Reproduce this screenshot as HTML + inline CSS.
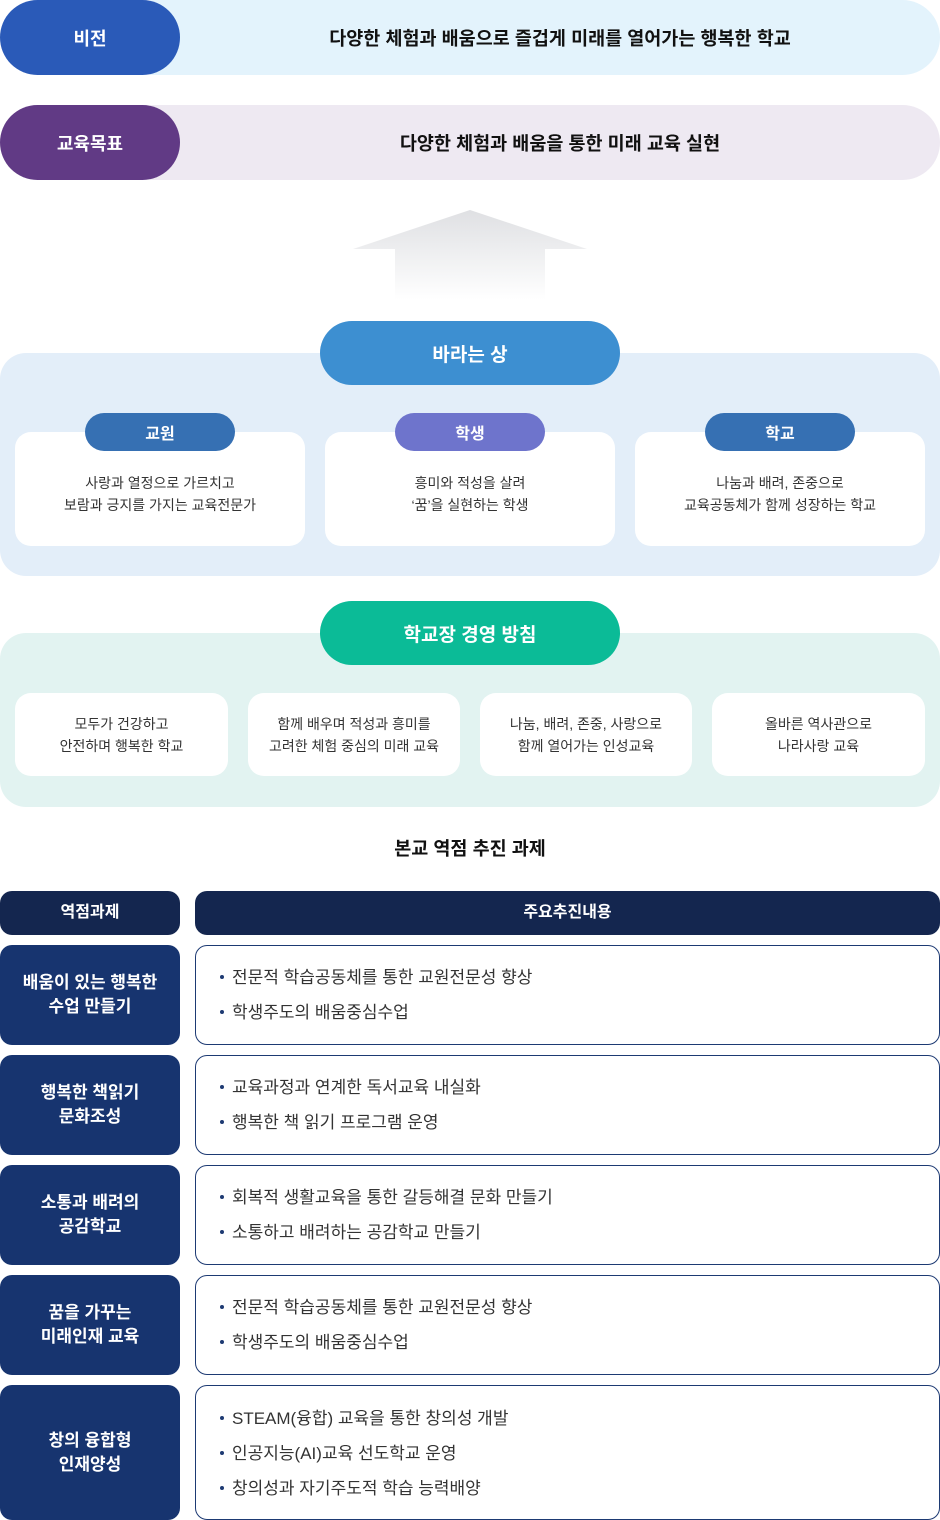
<!DOCTYPE html>
<html><head><meta charset="utf-8"><style>
*{margin:0;padding:0;box-sizing:border-box}
body{width:940px;height:1520px;position:relative;background:#fff;font-family:"Liberation Sans","Noto Sans CJK KR",sans-serif;color:#222;overflow:hidden}
.a{position:absolute}
.c{display:flex;align-items:center;justify-content:center;text-align:center}
.band{border-radius:0 38px 38px 0;font-size:18.5px;font-weight:bold;color:#111}
.pill{border-radius:38px;color:#fff;font-size:18px;font-weight:bold}
.card{background:#fff;border-radius:16px;font-size:14px;line-height:22px;color:#333}
.tag{border-radius:19px;color:#fff;font-size:16px;font-weight:bold}
.lh{background:#17346f;color:#fff;border-radius:12px;font-size:17px;font-weight:bold;line-height:24px}
.rb{border:1px solid #1d3a73;border-radius:12px;background:#fff;font-size:17px;color:#333}
.rb div{position:absolute;left:24px}
.rb div:before{content:"";display:inline-block;width:4px;height:4px;border-radius:50%;background:#1d3a73;margin-right:8px;vertical-align:middle;position:relative;top:-2px}
</style></head><body>
<div class="a c band" style="left:150px;top:0;width:790px;height:75px;background:#e3f3fc;padding-left:30px">다양한 체험과 배움으로 즐겁게 미래를 열어가는 행복한 학교</div>
<div class="a c pill" style="left:0;top:0;width:180px;height:75px;background:#2a5ab8">비전</div>
<div class="a c band" style="left:150px;top:105px;width:790px;height:75px;background:#eee9f2;padding-left:30px">다양한 체험과 배움을 통한 미래 교육 실현</div>
<div class="a c pill" style="left:0;top:105px;width:180px;height:75px;background:#613a85">교육목표</div>
<svg class="a" style="left:0;top:200px" width="940" height="110"><defs><linearGradient id="g" x1="0" y1="0" x2="0" y2="1"><stop offset="0" stop-color="#dfe0e3"/><stop offset="1" stop-color="#fff"/></linearGradient></defs>
<path d="M470 10 L587 49 L545 49 L545 100 L395 100 L395 49 L353 49 Z" fill="url(#g)"/></svg>

<div class="a" style="left:0;top:353px;width:940px;height:223px;background:#e3eef9;border-radius:26px"></div>
<div class="a c pill" style="left:320px;top:321px;width:300px;height:64px;background:#3d8fd1;border-radius:32px;font-size:19px">바라는 상</div>
<div class="a c card" style="left:15px;top:432px;width:290px;height:114px;padding-top:10px">사랑과 열정으로 가르치고<br>보람과 긍지를 가지는 교육전문가</div>
<div class="a c card" style="left:325px;top:432px;width:290px;height:114px;padding-top:10px">흥미와 적성을 살려<br>‘꿈’을 실현하는 학생</div>
<div class="a c card" style="left:635px;top:432px;width:290px;height:114px;padding-top:10px">나눔과 배려, 존중으로<br>교육공동체가 함께 성장하는 학교</div>
<div class="a c tag" style="left:85px;top:413px;width:150px;height:38px;background:#3670b3">교원</div>
<div class="a c tag" style="left:395px;top:413px;width:150px;height:38px;background:#6e74cc">학생</div>
<div class="a c tag" style="left:705px;top:413px;width:150px;height:38px;background:#3670b3">학교</div>

<div class="a" style="left:0;top:633px;width:940px;height:174px;background:#e2f3f1;border-radius:26px"></div>
<div class="a c pill" style="left:320px;top:601px;width:300px;height:64px;background:#0bbb97;border-radius:32px;font-size:19px">학교장 경영 방침</div>
<div class="a c card" style="left:15px;top:693px;width:213px;height:83px">모두가 건강하고<br>안전하며 행복한 학교</div>
<div class="a c card" style="left:248px;top:693px;width:212px;height:83px">함께 배우며 적성과 흥미를<br>고려한 체험 중심의 미래 교육</div>
<div class="a c card" style="left:480px;top:693px;width:212px;height:83px">나눔, 배려, 존중, 사랑으로<br>함께 열어가는 인성교육</div>
<div class="a c card" style="left:712px;top:693px;width:213px;height:83px">올바른 역사관으로<br>나라사랑 교육</div>

<div class="a c" style="left:0;top:836px;width:940px;height:24px;font-size:18.5px;font-weight:bold;color:#111">본교 역점 추진 과제</div>

<div class="a c lh" style="left:0;top:891px;width:180px;height:44px;background:#14264f;font-size:16px">역점과제</div>
<div class="a c lh" style="left:195px;top:891px;width:745px;height:44px;background:#14264f;font-size:16px">주요추진내용</div>

<div class="a c lh" style="left:0;top:945px;width:180px;height:100px">배움이 있는 행복한<br>수업 만들기</div>
<div class="a rb" style="left:195px;top:945px;width:745px;height:100px"><div style="top:17px">전문적 학습공동체를 통한 교원전문성 향상</div><div style="top:52px">학생주도의 배움중심수업</div></div>
<div class="a c lh" style="left:0;top:1055px;width:180px;height:100px">행복한 책읽기<br>문화조성</div>
<div class="a rb" style="left:195px;top:1055px;width:745px;height:100px"><div style="top:17px">교육과정과 연계한 독서교육 내실화</div><div style="top:52px">행복한 책 읽기 프로그램 운영</div></div>
<div class="a c lh" style="left:0;top:1165px;width:180px;height:100px">소통과 배려의<br>공감학교</div>
<div class="a rb" style="left:195px;top:1165px;width:745px;height:100px"><div style="top:17px">회복적 생활교육을 통한 갈등해결 문화 만들기</div><div style="top:52px">소통하고 배려하는 공감학교 만들기</div></div>
<div class="a c lh" style="left:0;top:1275px;width:180px;height:100px">꿈을 가꾸는<br>미래인재 교육</div>
<div class="a rb" style="left:195px;top:1275px;width:745px;height:100px"><div style="top:17px">전문적 학습공동체를 통한 교원전문성 향상</div><div style="top:52px">학생주도의 배움중심수업</div></div>
<div class="a c lh" style="left:0;top:1385px;width:180px;height:135px">창의 융합형<br>인재양성</div>
<div class="a rb" style="left:195px;top:1385px;width:745px;height:135px"><div style="top:18px">STEAM(융합) 교육을 통한 창의성 개발</div><div style="top:53px">인공지능(AI)교육 선도학교 운영</div><div style="top:88px">창의성과 자기주도적 학습 능력배양</div></div>
</body></html>
